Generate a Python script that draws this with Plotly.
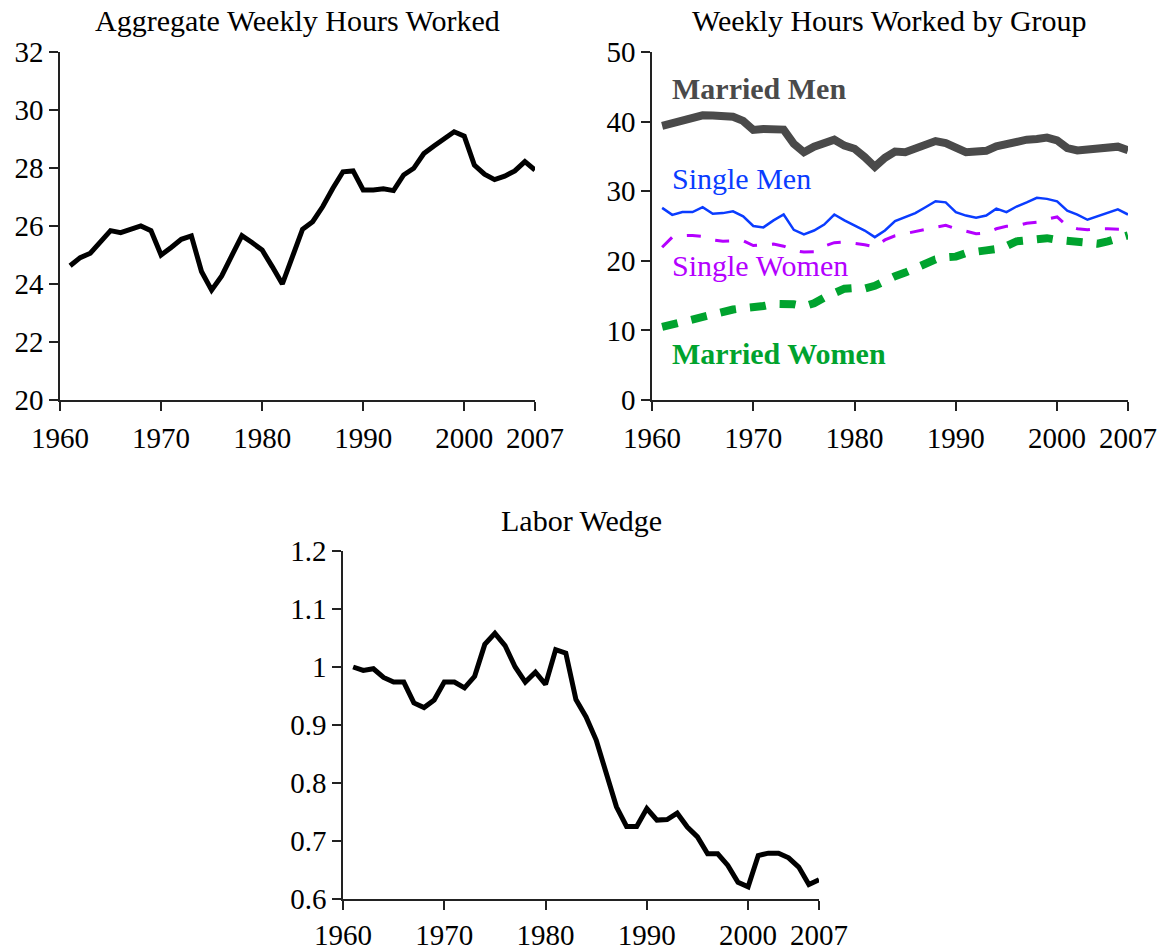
import plotly.graph_objects as go

years = list(range(1961, 2008))

aggregate_hours = [
    24.63, 24.91, 25.06, 25.46, 25.84, 25.77, 25.89, 26.00, 25.84, 25.00,
    25.26, 25.54, 25.66, 24.43, 23.79, 24.28, 24.98, 25.67, 25.43, 25.17,
    24.60, 24.00, 24.94, 25.89, 26.15, 26.67, 27.30, 27.87, 27.90, 27.24,
    27.24, 27.28, 27.22, 27.76, 27.99, 28.50, 28.76, 29.02, 29.25, 29.10,
    28.10, 27.79, 27.60, 27.72, 27.90, 28.22, 27.93,
]

married_men = [
    39.4, 39.76, 40.04, 40.6, 40.9, 40.86, 40.86, 40.7, 40.1, 38.8,
    38.95, 39.0, 38.85, 36.8, 35.6, 36.4, 37.0, 37.4, 36.55, 36.1,
    34.9, 33.5, 34.8, 35.7, 35.6, 36.1, 36.7, 37.2, 36.9, 36.1,
    35.6, 35.7, 35.8, 36.45, 36.8, 37.2, 37.4, 37.5, 37.7, 37.3,
    36.2, 35.85, 35.95, 36.1, 36.2, 36.4, 35.9,
]

single_men = [
    27.6, 26.6, 27.0, 27.0, 27.7, 26.75, 26.85, 27.1, 26.4, 25.0,
    24.8, 25.8, 26.65, 24.45, 23.8, 24.35, 25.2, 26.65, 25.8, 25.1,
    24.35, 23.4, 24.35, 25.7, 26.3, 26.85, 27.7, 28.55, 28.4, 27.0,
    26.5, 26.2, 26.5, 27.5, 27.0, 27.8, 28.4, 29.05, 28.9, 28.55,
    27.2, 26.65, 25.9, 26.4, 27.0, 27.4, 26.65,
]

single_women = [
    21.95, 23.4, 23.6, 23.65, 23.5, 23.0, 22.8, 22.8, 22.9, 22.2,
    22.3, 22.4, 22.1, 21.5, 21.25, 21.3, 22.1, 22.6, 22.7, 22.55,
    22.3, 22.0, 23.0, 23.6, 23.9, 24.1, 24.4, 24.8, 25.1, 24.6,
    24.25, 23.9, 24.0, 24.6, 24.95, 25.0, 25.4, 25.55, 26.0, 26.3,
    25.0, 24.6, 24.45, 24.6, 24.6, 24.6, 24.5,
]

married_women = [
    10.5, 10.85, 11.2, 11.5, 11.9, 12.4, 12.8, 13.0, 13.2, 13.3,
    13.5, 13.8, 13.9, 13.75, 13.45, 13.9, 14.7, 15.5, 16.0, 16.1,
    16.0, 16.4, 17.2, 17.8, 18.3, 19.0, 19.6, 20.2, 20.5, 20.6,
    21.1, 21.4, 21.5, 21.7, 22.1, 22.8, 22.9, 22.9, 23.25, 23.0,
    22.8, 22.7, 22.5, 22.45, 22.8, 23.2, 23.65,
]

labor_wedge = [
    1.0, 0.994, 0.997, 0.982, 0.974, 0.974, 0.938, 0.93, 0.943, 0.974,
    0.974, 0.964, 0.984, 1.039, 1.058, 1.037, 1.0, 0.974, 0.991, 0.97,
    1.03, 1.024, 0.944, 0.914, 0.874, 0.819, 0.759, 0.725, 0.725, 0.756,
    0.736, 0.737, 0.748, 0.724, 0.707, 0.678, 0.678, 0.658, 0.629, 0.621,
    0.675, 0.679, 0.679, 0.671, 0.655, 0.625, 0.633,
]

x_tickvals = [1960, 1970, 1980, 1990, 2000, 2007]
x_ticktext = ["1960", "1970", "1980", "1990", "2000", "2007"]
agg_ticks = [20, 22, 24, 26, 28, 30, 32]
group_ticks = [0, 10, 20, 30, 40, 50]
wedge_ticks = [0.6, 0.7, 0.8, 0.9, 1.0, 1.1, 1.2]
wedge_ticktext = ["0.6", "0.7", "0.8", "0.9", "1", "1.1", "1.2"]

titles = ["Aggregate Weekly Hours Worked", "Weekly Hours Worked by Group", "Labor Wedge"]
group_labels = ["Married Men", "Single Men", "Single Women", "Married Women"]

FONT = "Liberation Serif, Times New Roman, serif"
OFF = 0  # body margin removed via post_script
W, H = 1164 - OFF, 951 - OFF

fig = go.Figure()

fig.add_trace(go.Scatter(x=years, y=aggregate_hours, mode="lines",
                         line=dict(color="black", width=5), xaxis="x", yaxis="y"))
fig.add_trace(go.Scatter(x=years, y=married_women, mode="lines",
                         line=dict(color="#00a32e", width=8, dash="16px,14px"), xaxis="x2", yaxis="y2"))
fig.add_trace(go.Scatter(x=years, y=single_women, mode="lines",
                         line=dict(color="#b400ff", width=3, dash="14px,15px"), xaxis="x2", yaxis="y2"))
fig.add_trace(go.Scatter(x=years, y=single_men, mode="lines",
                         line=dict(color="#0a3cff", width=2.5), xaxis="x2", yaxis="y2"))
fig.add_trace(go.Scatter(x=years, y=married_men, mode="lines",
                         line=dict(color="#4a4a4a", width=8), xaxis="x2", yaxis="y2"))
fig.add_trace(go.Scatter(x=years, y=labor_wedge, mode="lines",
                         line=dict(color="black", width=5), xaxis="x3", yaxis="y3"))


def px_dom(a, b):
    return [(a - OFF) / W, (b - OFF) / W]


def py_dom(top, bottom):
    return [1 - (bottom - OFF) / H, 1 - (top - OFF) / H]


axis_common = dict(showline=True, linecolor="#222", linewidth=1.5, ticks="outside",
                   ticklen=9, tickwidth=1.5, tickcolor="#222", showgrid=False,
                   zeroline=False, automargin=False,
                   tickfont=dict(family=FONT, size=29, color="black"))

fig.update_layout(
    template="none",
    width=W, height=H,
    margin=dict(l=0, r=0, t=0, b=0, pad=0, autoexpand=False),
    paper_bgcolor="white", plot_bgcolor="white",
    showlegend=False,
    xaxis=dict(domain=px_dom(60, 535), range=[1960, 2007], tickvals=x_tickvals,
               ticktext=x_ticktext, anchor="y", ticklabelstandoff=2, **axis_common),
    yaxis=dict(domain=py_dom(52, 400), range=[20, 32], tickvals=agg_ticks, anchor="x", **axis_common),
    xaxis2=dict(domain=px_dom(652, 1128), range=[1960, 2007], tickvals=x_tickvals,
                ticktext=x_ticktext, anchor="y2", ticklabelstandoff=2, **axis_common),
    yaxis2=dict(domain=py_dom(52, 400), range=[0, 50], tickvals=group_ticks, anchor="x2", **axis_common),
    xaxis3=dict(domain=px_dom(343, 819), range=[1960, 2007], tickvals=x_tickvals,
                ticktext=x_ticktext, anchor="y3", ticklabelstandoff=0, **axis_common),
    yaxis3=dict(domain=py_dom(551, 899), range=[0.6, 1.2], tickvals=wedge_ticks,
                ticktext=wedge_ticktext, anchor="x3", **axis_common),
)

title_pos = [((60 + 535) / 2, 21), ((652 + 1128) / 2, 21), ((343 + 819) / 2, 520)]
for t, (cx, cy) in zip(titles, title_pos):
    fig.add_annotation(text=t, x=(cx - OFF) / W, y=1 - (cy - OFF) / H, xref="paper", yref="paper",
                       xanchor="center", yanchor="middle", showarrow=False,
                       font=dict(family=FONT, size=30, color="black"))

label_y = [44.7, 31.8, 19.3, 6.7]
label_colors = ["#4a4a4a", "#0a3cff", "#b400ff", "#00a32e"]
label_bold = [True, False, False, True]
for lab, ly, col, b in zip(group_labels, label_y, label_colors, label_bold):
    fig.add_annotation(text=f"<b>{lab}</b>" if b else lab, x=1961.8, y=ly, xref="x2", yref="y2",
                       xanchor="left", yanchor="middle", showarrow=False,
                       font=dict(family=FONT, size=30, color=col))

fig.write_html("out.html",
               config={"displayModeBar": False},
               post_script="document.body.style.margin='0';document.body.style.overflow='hidden';")
